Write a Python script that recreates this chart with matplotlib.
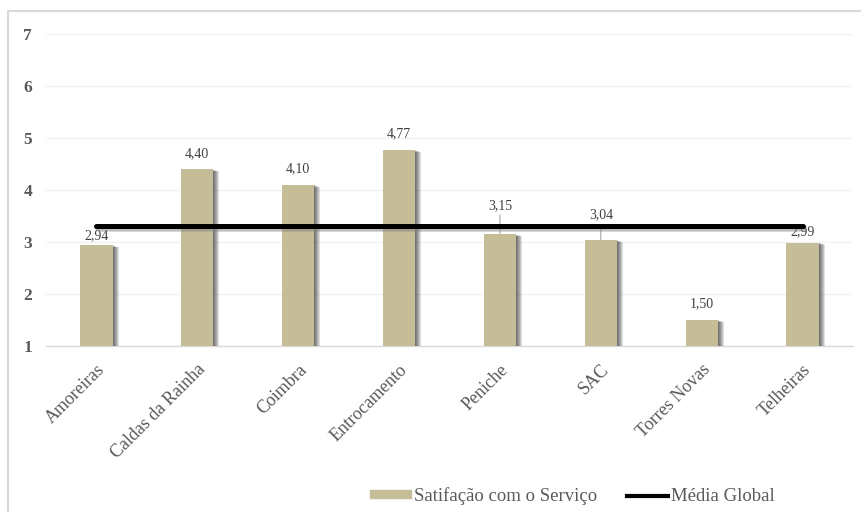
import matplotlib
matplotlib.use("Agg")
import matplotlib.pyplot as plt
import matplotlib.patheffects as pe
from matplotlib.patches import Rectangle
from matplotlib.lines import Line2D

plt.rcParams['font.family'] = ['Liberation Serif', 'DejaVu Serif']

# chart data
lojas = ['Amoreiras', 'Caldas da Rainha', 'Coimbra', 'Entrocamento',
         'Peniche', 'SAC', 'Torres Novas', 'Telheiras']
satisfacao = [2.94, 4.40, 4.10, 4.77, 3.15, 3.04, 1.50, 2.99]
media_global = 3.31
y_ticks = [1, 2, 3, 4, 5, 6, 7]

BAR = '#C4BD97'
TXT = '#595959'

# label height above the bar top (pixels), leader lines where lifted
label_px = {0: 9, 7: 11, 4: 29, 5: 25}
leader = {4, 5}

fig = plt.figure(figsize=(8.61, 5.12), dpi=100)
W, H = 861, 512
ax = fig.add_axes([46 / W, 1 - 346 / H, (853 - 46) / W, (346 - 34) / H])

# outer chart frame
fig.patches.append(Rectangle((8 / W, -0.1), 1.2, 1 - 11 / H + 0.1,
                             transform=fig.transFigure, fill=False,
                             edgecolor='#D9D9D9', lw=1.5, zorder=0))

x = list(range(len(lojas)))
# soft drop shadow built from stacked offset copies
shadow = [pe.SimplePatchShadow(offset=(p * 0.72, -p * 0.25),
                               shadow_rgbFace='black', alpha=0.12)
          for p in (1, 2, 3, 4, 5, 6)]
bars = ax.bar(x, satisfacao, width=0.32, bottom=0, color=BAR, zorder=3)
for b in bars:
    b.set_path_effects(shadow + [pe.Normal()])

ax.plot(x, [media_global] * len(x), color='black', lw=3.6, zorder=4,
        solid_capstyle='round',
        path_effects=[pe.SimpleLineShadow(offset=(1, -2.5), shadow_color='gray',
                                          alpha=0.3),
                      pe.SimpleLineShadow(offset=(0.5, -1.2), shadow_color='gray',
                                          alpha=0.3),
                      pe.Normal()])

for i, v in enumerate(satisfacao):
    off = label_px.get(i, 16) * 0.72
    txt = f"{v:.2f}".replace('.', ',')
    ax.annotate(txt, (i, v), xytext=(0, off), textcoords='offset points',
                ha='center', va='center', fontsize=10, color='#404040',
                zorder=3.5)
    if i in leader:
        ax.annotate('', xy=(i, v), xytext=(0, off - 7),
                    textcoords='offset points',
                    arrowprops=dict(arrowstyle='-', color='#A6A6A6', lw=0.8,
                                    shrinkA=0, shrinkB=0), zorder=2)

ax.set_ylim(1, 7)
ax.set_xlim(-0.5, len(lojas) - 0.5)
ax.set_yticks(y_ticks)
ax.set_yticklabels([str(t) for t in y_ticks], fontweight='bold',
                   fontsize=12.5, color=TXT)
ax.set_xticks(x)
ax.set_xticklabels(lojas, rotation=45, ha='right', va='top',
                   rotation_mode='anchor', fontsize=13, color=TXT)
ax.tick_params(axis='y', length=0, pad=10)
ax.tick_params(axis='x', length=0, pad=11)
ax.grid(axis='y', color='#F2F2F2', lw=1, zorder=0)
for s in ('top', 'right', 'left'):
    ax.spines[s].set_visible(False)
ax.spines['bottom'].set_color('#D9D9D9')
ax.spines['bottom'].set_linewidth(1)

handles = [Rectangle((0, 0), 1, 1, color=BAR),
           Line2D([], [], color='black', lw=3)]
fig.legend(handles, ['Satifação com o Serviço', 'Média Global'],
           loc='center', bbox_to_anchor=(572 / W, 1 - 496 / H), ncol=2,
           frameon=False, fontsize=13.5, handlelength=2.2, handleheight=0.3,
           handletextpad=0.15, columnspacing=1.6, labelcolor=TXT)

fig.savefig('out.png', dpi=100, facecolor='white')
